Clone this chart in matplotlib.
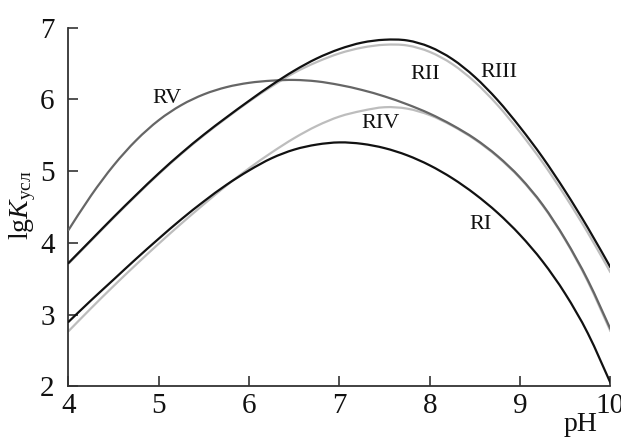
import matplotlib
matplotlib.use("Agg")
import matplotlib.pyplot as plt
from matplotlib.path import Path
from matplotlib.patches import PathPatch

pH = [4.0, 4.25, 4.5, 4.75, 5.0, 5.25, 5.5, 5.75, 6.0, 6.25, 6.5, 6.75, 7.0,
      7.25, 7.5, 7.75, 8.0, 8.25, 8.5, 8.75, 9.0, 9.25, 9.5, 9.75, 10.0]

RI = [2.90, 3.20, 3.49, 3.78, 4.06, 4.33, 4.58, 4.81, 5.01, 5.18, 5.30, 5.37, 5.40,
      5.38, 5.32, 5.22, 5.08, 4.90, 4.68, 4.42, 4.11, 3.74, 3.29, 2.74, 2.05]
RII = [3.71, 4.03, 4.35, 4.66, 4.96, 5.24, 5.50, 5.74, 5.97, 6.18, 6.37, 6.52, 6.64,
       6.72, 6.76, 6.75, 6.66, 6.49, 6.24, 5.92, 5.54, 5.12, 4.65, 4.14, 3.59]
RIII = [3.72, 4.04, 4.36, 4.67, 4.97, 5.25, 5.51, 5.75, 5.98, 6.20, 6.40, 6.57, 6.70,
        6.79, 6.83, 6.82, 6.73, 6.56, 6.31, 5.99, 5.61, 5.19, 4.72, 4.21, 3.66]
RIV = [2.77, 3.09, 3.40, 3.70, 3.99, 4.27, 4.54, 4.80, 5.04, 5.26, 5.46, 5.63, 5.76,
       5.84, 5.89, 5.87, 5.78, 5.63, 5.44, 5.20, 4.90, 4.52, 4.04, 3.46, 2.77]
RV = [4.18, 4.66, 5.08, 5.43, 5.71, 5.92, 6.07, 6.17, 6.23, 6.26, 6.27, 6.25, 6.20,
      6.13, 6.04, 5.93, 5.80, 5.64, 5.45, 5.21, 4.91, 4.53, 4.05, 3.48, 2.80]

x_ticks = [4, 5, 6, 7, 8, 9, 10]
y_ticks = [2, 3, 4, 5, 6, 7]

labels = ["RI", "RII", "RIII", "RIV", "RV"]
label_pos = [(8.56, 4.25), (7.95, 6.35), (8.76, 6.38), (7.45, 5.66), (5.09, 6.01)]

plt.rcParams['font.family'] = ['Liberation Serif', 'DejaVu Serif']
plt.rcParams['mathtext.fontset'] = 'custom'
plt.rcParams['mathtext.rm'] = 'Liberation Serif'
plt.rcParams['mathtext.it'] = 'Liberation Serif:italic'

fig = plt.figure(figsize=(6.21, 4.37), dpi=100)
ax = fig.add_axes([0.1103, 0.1156, 0.983 - 0.1103, 0.937 - 0.1156])


def smooth_curve(ax, xs, ys, **kw):
    """Draw a smooth curve through the data points (Catmull-Rom as cubic Bezier)."""
    n = len(xs)
    verts = [(xs[0], ys[0])]
    codes = [Path.MOVETO]
    for i in range(n - 1):
        x0, y0 = (xs[i - 1], ys[i - 1]) if i > 0 else (xs[i], ys[i])
        x1, y1 = xs[i], ys[i]
        x2, y2 = xs[i + 1], ys[i + 1]
        x3, y3 = (xs[i + 2], ys[i + 2]) if i + 2 < n else (xs[i + 1], ys[i + 1])
        c1 = (x1 + (x2 - x0) / 6.0, y1 + (y2 - y0) / 6.0)
        c2 = (x2 - (x3 - x1) / 6.0, y2 - (y3 - y1) / 6.0)
        verts += [c1, c2, (x2, y2)]
        codes += [Path.CURVE4] * 3
    patch = PathPatch(Path(verts, codes), fill=False, capstyle='round', **kw)
    ax.add_patch(patch)
    return patch


light = '#bdbdbd'
dark = '#666666'
black = '#111111'
lw = 1.6

smooth_curve(ax, pH, RII, edgecolor=light, lw=lw, zorder=2)
smooth_curve(ax, pH, RIV, edgecolor=light, lw=lw, zorder=2)
smooth_curve(ax, pH, RV, edgecolor=dark, lw=lw, zorder=3)
smooth_curve(ax, pH, RIII, edgecolor=black, lw=lw, zorder=4)
smooth_curve(ax, pH, RI, edgecolor=black, lw=lw, zorder=4)

for lab, (xx, yy) in zip(labels, label_pos):
    ax.text(xx, yy, lab, fontsize=16, ha='center', va='center', color='#111111', zorder=5)

ax.set_xlim(4, 10)
ax.set_ylim(2, 7)
ax.set_xticks(x_ticks)
ax.set_yticks(y_ticks)
ax.tick_params(direction='in', length=7, width=1.2, labelsize=21, colors='#333333',
               labelcolor='#111111')
ax.tick_params(axis='y', pad=10)
ax.tick_params(axis='x', pad=5)
for s in ['top', 'right']:
    ax.spines[s].set_visible(False)
for s in ['left', 'bottom']:
    ax.spines[s].set_linewidth(1.3)
    ax.spines[s].set_color('#333333')

fig.text(0.935, 0.0, 'pH', fontsize=20, ha='center', va='bottom', color='#111111')
fig.text(0.036, 0.53, r'$\mathrm{lg}\mathit{K}_{\mathrm{усл}}$', fontsize=20,
         rotation=90, ha='center', va='center', color='#111111')

fig.savefig('out.png', dpi=100)
